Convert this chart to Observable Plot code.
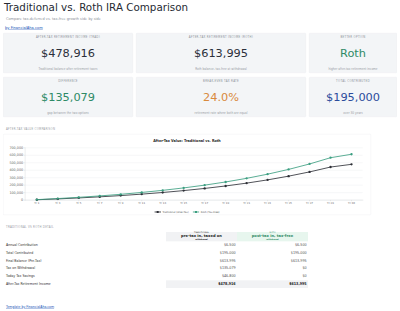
<!DOCTYPE html>
<html><head><meta charset="utf-8">
<script src="https://cdn.jsdelivr.net/npm/d3@7"></script>
<script src="https://cdn.jsdelivr.net/npm/@observablehq/plot@0.6"></script>
<style>
html,body{margin:0;padding:0;background:#fff;overflow:hidden;width:400px;height:311px;}
#page{position:absolute;left:0;top:0;width:1200px;height:933px;transform:scale(0.3333333);transform-origin:0 0;font-family:"DejaVu Sans",sans-serif;color:#222;}
.abs{position:absolute;}
#title{left:12px;top:2px;font-size:31px;line-height:38px;color:#262a33;white-space:nowrap;}
#sub{left:18px;top:48px;font-size:10.5px;line-height:14px;color:#8a8f98;white-space:nowrap;}
#by{left:15px;top:77px;font-size:11px;line-height:14px;color:#2456b8;text-decoration:underline;white-space:nowrap;}
.card{position:absolute;background:#f3f5f7;border:1px solid #e6e9ed;box-sizing:border-box;border-radius:3px;}
.card .lab{position:absolute;left:0;right:0;top:6px;text-align:center;font-size:8px;line-height:12px;letter-spacing:0.9px;color:#8d9299;white-space:nowrap;}
.card .val{position:absolute;left:0;right:0;top:38px;text-align:center;font-size:34px;line-height:44px;color:#2b303a;white-space:nowrap;}
.card .cap{position:absolute;left:0;right:0;top:102px;text-align:center;font-size:8.5px;line-height:12px;color:#9a9ea5;white-space:nowrap;}
.sec{position:absolute;font-size:8px;line-height:12px;letter-spacing:0.8px;color:#9a9ea5;white-space:nowrap;}
#chartcard{left:9px;top:402px;width:1104px;height:243px;border:1px solid #e8eaed;box-sizing:border-box;background:#fff;border-radius:3px;}
#ctitle{position:absolute;left:0;right:0;top:14px;text-align:center;font-weight:bold;font-size:10px;line-height:14px;color:#222;}
#plot{position:absolute;left:-1px;top:32px;}
#legend{position:absolute;left:0;right:0;top:227px;text-align:center;font-size:7.5px;line-height:12px;color:#555;white-space:nowrap;}
#legend span.item{margin:0 6px;}
#legend svg{vertical-align:middle;margin-right:4px;}
#tbl{position:absolute;left:0;top:696px;}
.row{position:absolute;white-space:nowrap;}
.rl{position:absolute;left:18px;font-size:9.5px;color:#333;}
.rv{position:absolute;text-align:right;font-size:10px;color:#555;}
#footer{left:18px;top:914px;font-size:9.5px;line-height:14px;color:#2456b8;text-decoration:underline;white-space:nowrap;}
</style></head>
<body><div id="page">
<div id="title" class="abs">Traditional vs. Roth IRA Comparison</div>
<div id="sub" class="abs">Compare tax-deferred vs. tax-free growth side by side</div>
<div id="by" class="abs">by FinancialAha.com</div>
<div id="cards"></div>
<div class="sec" style="left:18px;top:381px;">AFTER-TAX VALUE COMPARISON</div>
<div id="chartcard" class="abs">
  <div id="ctitle">After-Tax Value: Traditional vs. Roth</div>
  <div id="plot"></div>
  <div id="legend"></div>
</div>
<div class="sec" style="left:18px;top:675px;">TRADITIONAL VS ROTH DETAIL</div>
<div id="tbl"></div>
<div id="footer" class="abs">Template by FinancialAha.com</div>
</div>
<script>
// ---- data ----
const years = ["Yr 1","Yr 3","Yr 5","Yr 7","Yr 9","Yr 11","Yr 13","Yr 15","Yr 17","Yr 19","Yr 21","Yr 23","Yr 25","Yr 27","Yr 29","Yr 30"];
const traditional = [5070,16300,29156,43876,60729,80023,102113,127404,156360,189512,227467,270921,320673,377633,442847,478916];
const roth = [6500,20897,37380,56251,77858,102593,130914,163339,200461,242964,291624,347335,411119,484145,567752,613995];
const seriesNames = ["Traditional (After-Tax)","Roth (Tax-Free)"];
const yTicks = [0,100000,200000,300000,400000,500000,600000,700000];

const kpiLabels = ["AFTER-TAX RETIREMENT INCOME (TRAD)","AFTER-TAX RETIREMENT INCOME (ROTH)","BETTER OPTION","DIFFERENCE","BREAK-EVEN TAX RATE","TOTAL CONTRIBUTED"];
const kpiValues = ["$478,916","$613,995","Roth","$135,079","24.0%","$195,000"];
const kpiCaptions = ["Traditional balance after retirement taxes","Roth balance, tax-free at withdrawal","higher after-tax retirement income","gap between the two options","retirement rate where both are equal","over 30 years"];

const rowLabels = ["Annual Contribution","Total Contributed","Final Balance (Pre-Tax)","Tax on Withdrawal","Today Tax Savings","After-Tax Retirement Income"];
const tradValues = ["$6,500","$195,000","$613,995","$135,079","$46,800","$478,916"];
const rothValues = ["$6,500","$195,000","$613,995","$0","$0","$613,995"];
const headTop = ["TRADITIONAL","ROTH"];
const headMain = ["pre-tax in, taxed on","post-tax in, tax-free"];
const headSub = ["withdrawal","withdrawal"];

// ---- styles ----
const kpiColors = ["#2b303a","#2b303a","#2e8a66","#2e8a66","#d98a3d","#2c4c9c"];
const cardX = [[9,390],[408,510],[927,264]];
const cardY = [99,231];
const lineColors = ["#2d2f36","#3a9e80"];

// cards
const cards = document.getElementById("cards");
kpiLabels.forEach((l,i)=>{
  const c = document.createElement("div");
  c.className="card";
  const [x,w] = cardX[i%3];
  c.style.left=x+"px"; c.style.width=w+"px"; c.style.top=cardY[Math.floor(i/3)]+"px"; c.style.height="120px";
  c.innerHTML = `<div class="lab">${l}</div><div class="val" style="color:${kpiColors[i]}">${kpiValues[i]}</div><div class="cap">${kpiCaptions[i]}</div>`;
  cards.appendChild(c);
});

// chart
const data = [];
years.forEach((y,i)=>{
  data.push({year:y, series:seriesNames[0], value:traditional[i]});
  data.push({year:y, series:seriesNames[1], value:roth[i]});
});
const chart = Plot.plot({
  width:1104, height:186, marginLeft:66, marginRight:24, marginTop:8, marginBottom:21,
  style:{fontFamily:"DejaVu Sans", fontSize:"10px", color:"#666", background:"transparent", overflow:"visible"},
  x:{type:"point", domain:years, padding:0.5, label:null},
  y:{domain:[0,700000], label:null},
  color:{domain:seriesNames, range:lineColors},
  marks:[
    Plot.gridY(yTicks,{stroke:"#e4e6e9", strokeOpacity:1}),
    Plot.axisY(yTicks,{tickFormat:d3.format(","), tickSize:4, tickPadding:2, fontSize:10, stroke:"#ccc", fill:"#666", label:null}),
    Plot.axisX({tickSize:4, tickPadding:3, fontSize:8, stroke:"#ccc", fill:"#666", label:null}),
    Plot.frame({anchor:"left", stroke:"#c9ccd1"}),
    Plot.frame({anchor:"bottom", stroke:"#c9ccd1"}),
    Plot.line(data,{x:"year", y:"value", stroke:"series", strokeWidth:2.5}),
    Plot.dot(data,{x:"year", y:"value", fill:"series", r:3.5})
  ]
});
document.getElementById("plot").appendChild(chart);

// legend
const lg = document.getElementById("legend");
seriesNames.forEach((n,i)=>{
  const s = document.createElement("span");
  s.className="item";
  s.innerHTML = `<svg width="20" height="8"><line x1="0" y1="4" x2="20" y2="4" stroke="${lineColors[i]}" stroke-width="2.5"/><rect x="7" y="1" width="6" height="6" fill="${lineColors[i]}"/></svg>${n}`;
  lg.appendChild(s);
});

// table
const tbl = document.getElementById("tbl");
const colX = [[498,213],[711,213]];
const headBg = ["#f1f2f4","#e7f6ee"];
const headColor = ["#222","#2e8a66"];
headMain.forEach((h,j)=>{
  const d = document.createElement("div");
  d.style.cssText = `position:absolute;left:${colX[j][0]}px;width:${colX[j][1]}px;top:0;height:28px;background:${headBg[j]};text-align:center;color:${headColor[j]};white-space:nowrap;`;
  d.innerHTML = `<div style="font-size:6px;line-height:6px;margin-top:-2px;letter-spacing:0.4px;">${headTop[j]}</div><div style="font-size:11px;line-height:13px;font-weight:bold;">${h}</div><div style="font-size:6px;line-height:7px;font-weight:bold;">${headSub[j]}</div>`;
  tbl.appendChild(d);
});
rowLabels.forEach((l,i)=>{
  const top = 28 + i*23.4;
  const last = i===rowLabels.length-1;
  if(last){
    const bg=document.createElement("div");
    bg.style.cssText=`position:absolute;left:498px;width:426px;top:${top}px;height:23px;background:#f1f2f4;`;
    tbl.appendChild(bg);
  }
  const r = document.createElement("div");
  r.className="row"; r.style.top=top+"px";
  r.innerHTML = `<div class="rl" style="top:5px;">${l}</div>`+
    [tradValues[i],rothValues[i]].map((v,j)=>`<div class="rv" style="top:5px;left:${colX[j][0]}px;width:${colX[j][1]-4}px;${last?'font-weight:bold;color:#222;':''}">${v}</div>`).join("");
  tbl.appendChild(r);
});
</script>
</body></html>
